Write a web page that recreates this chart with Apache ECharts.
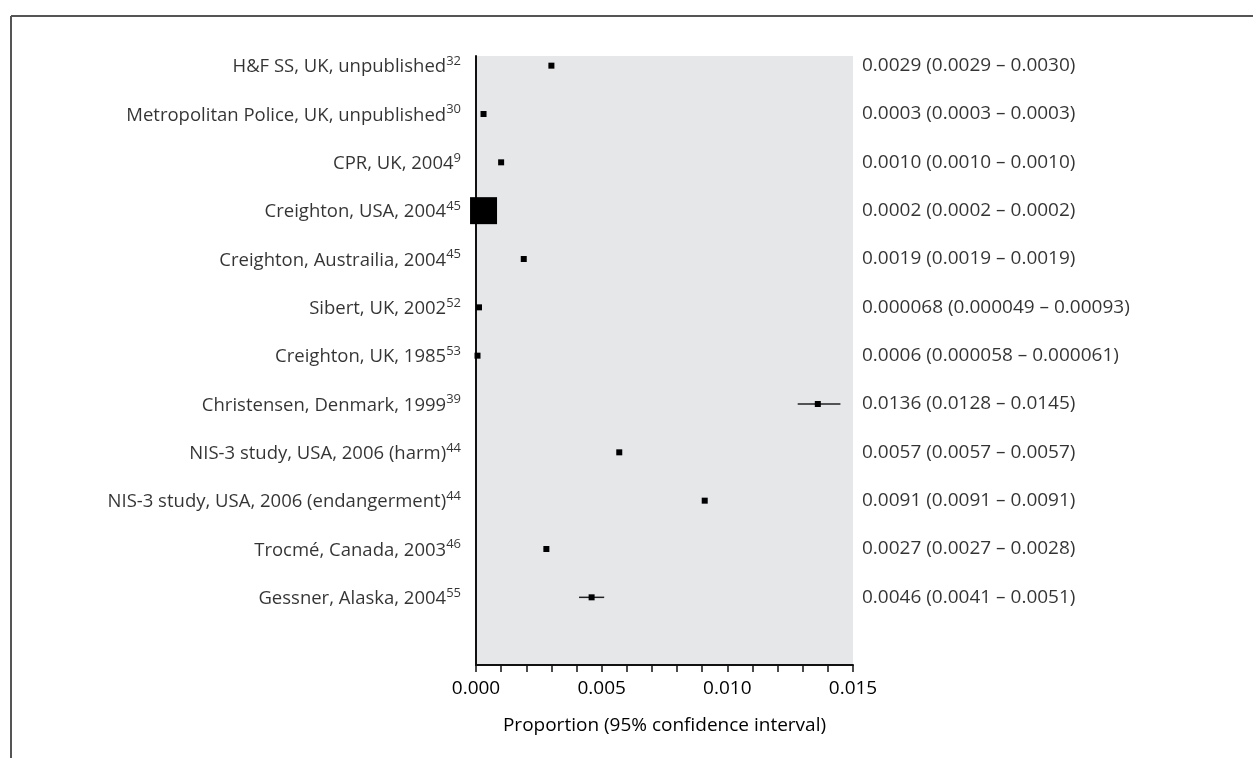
<!DOCTYPE html>
<html><head><meta charset="utf-8">
<script src="https://cdn.jsdelivr.net/npm/echarts@6/dist/echarts.min.js"></script>
<style>html,body{margin:0;padding:0;background:#fff;}#c{width:1253px;height:758px;}</style>
</head><body><div id="c"></div>
<script>
const studies = ["H&F SS, UK, unpublished","Metropolitan Police, UK, unpublished","CPR, UK, 2004","Creighton, USA, 2004","Creighton, Austrailia, 2004","Sibert, UK, 2002","Creighton, UK, 1985","Christensen, Denmark, 1999","NIS-3 study, USA, 2006 (harm)","NIS-3 study, USA, 2006 (endangerment)","Trocmé, Canada, 2003","Gessner, Alaska, 2004"];
const refs = ["32","30","9","45","45","52","53","39","44","44","46","55"];
const estimates = [0.0030,0.0003,0.0010,0.0003,0.0019,0.00012,0.00006,0.0136,0.0057,0.0091,0.0028,0.0046];
const lower = [0.0029,0.0003,0.0010,0.0003,0.0019,0.00012,0.00006,0.0128,0.0057,0.0091,0.0027,0.0041];
const upper = [0.0030,0.0003,0.0010,0.0003,0.0019,0.00012,0.00006,0.0145,0.0057,0.0091,0.0028,0.0051];
const weights = [6,6,6,27,6,6,6,6,6,6,6,6];
const ciText = ["0.0029 (0.0029 – 0.0030)","0.0003 (0.0003 – 0.0003)","0.0010 (0.0010 – 0.0010)","0.0002 (0.0002 – 0.0002)","0.0019 (0.0019 – 0.0019)","0.000068 (0.000049 – 0.00093)","0.0006 (0.000058 – 0.000061)","0.0136 (0.0128 – 0.0145)","0.0057 (0.0057 – 0.0057)","0.0091 (0.0091 – 0.0091)","0.0027 (0.0027 – 0.0028)","0.0046 (0.0041 – 0.0051)"];
const xTicks = [0, 0.005, 0.010, 0.015];
const axisName = 'Proportion (95% confidence interval)';

const FONT = 'Open Sans';
// pick font sizes so text widths match the reference's typeset widths
const ctx = document.createElement('canvas').getContext('2d');
function fit(text, target){ ctx.font = '100px "' + FONT + '"'; const w = ctx.measureText(text).width; return Math.round(100*target/w*2)/2; }
const fsLeft = Math.min(19, fit(studies[1], 320));
const fsRight = Math.min(19, fit(ciText[0], 213));
const fsTick = Math.min(19, fit('0.000', 49));
const fsName = Math.min(19, fit(axisName, 323));

const chart = echarts.init(document.getElementById('c'), null, {renderer:'canvas'});
const rows = studies.map((s,i)=>i);
chart.setOption({
  animation:false,
  textStyle:{fontFamily:FONT, color:'#000'},
  graphic:[
    {type:'line', shape:{x1:11,y1:16,x2:1253,y2:16}, style:{stroke:'#555',lineWidth:2}},
    {type:'line', shape:{x1:11,y1:16,x2:11,y2:758}, style:{stroke:'#555',lineWidth:2}}
  ],
  grid:{left:476,right:400,top:56,bottom:93,show:true,backgroundColor:'#e6e7e9',borderWidth:0},
  xAxis:{type:'value',min:xTicks[0],max:xTicks[xTicks.length-1],interval:0.005,
    axisLine:{show:true,onZero:false,lineStyle:{color:'#111',width:2}},
    axisTick:{show:true,length:7,lineStyle:{color:'#111',width:1.5}},
    minorTick:{show:true,splitNumber:5,length:7,lineStyle:{color:'#111',width:1.5}},
    splitLine:{show:false},
    axisLabel:{fontFamily:FONT,fontSize:fsTick,color:'#000',margin:14,formatter:v=>v.toFixed(3)},
    name:axisName,nameLocation:'middle',nameGap:51,
    nameTextStyle:{fontFamily:FONT,fontSize:fsName,color:'#000'}
  },
  yAxis:{type:'value',inverse:true,min:-0.2,max:12.4,
    axisLine:{show:true,lineStyle:{color:'#111',width:2}},
    axisTick:{show:false},axisLabel:{show:false},splitLine:{show:false}},
  series:[
    {type:'custom',clip:false,data:rows.map(i=>[lower[i],upper[i],i]),
     renderItem:(params,api)=>{
       const a=api.coord([api.value(0),api.value(2)]);
       const b=api.coord([api.value(1),api.value(2)]);
       return {type:'line',shape:{x1:a[0],y1:a[1],x2:b[0],y2:b[1]},style:{stroke:'#222',lineWidth:1.5}};
     }},
    {type:'scatter',clip:false,symbol:'rect',data:rows.map(i=>[estimates[i],i]),
     symbolSize:(v,p)=>weights[p.dataIndex],itemStyle:{color:'#000',opacity:1}},
    {type:'scatter',clip:false,symbolSize:0,data:rows.map(i=>[xTicks[0],i]),
     label:{show:true,position:'left',distance:15,
       formatter:p=>'{t|'+studies[p.dataIndex]+'}{s|'+refs[p.dataIndex]+'}',
       rich:{t:{fontFamily:FONT,fontSize:fsLeft,color:'#000',lineHeight:22,verticalAlign:'bottom'},
             s:{fontFamily:FONT,fontSize:13,color:'#000',lineHeight:22,verticalAlign:'top'}}}},
    {type:'scatter',clip:false,symbolSize:0,data:rows.map(i=>[xTicks[xTicks.length-1],i]),
     label:{show:true,position:'right',distance:9,fontFamily:FONT,fontSize:fsRight,color:'#000',
       formatter:p=>ciText[p.dataIndex]}}
  ]
});
</script></body></html>
